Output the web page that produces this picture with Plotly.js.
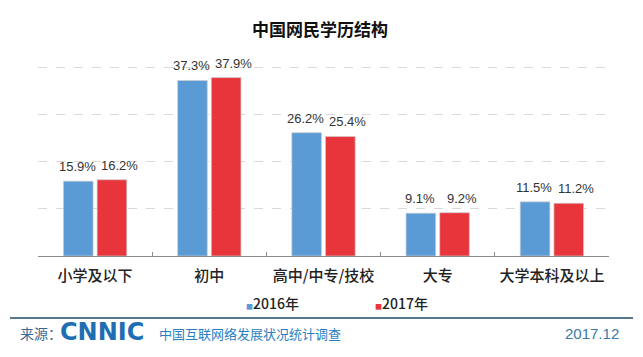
<!DOCTYPE html>
<html>
<head>
<meta charset="utf-8">
<script src="https://cdn.plot.ly/plotly-3.0.1.min.js"></script>
<style>html,body{margin:0;padding:0;background:#fff;}#chart{width:643px;height:357px;}</style>
</head>
<body>
<div id="chart"></div>
<script>
const categories = ['小学及以下', '初中', '高中/中专/技校', '大专', '大学本科及以上'];
const seriesNames = ['2016年', '2017年'];
const values2016 = [15.9, 37.3, 26.2, 9.1, 11.5];
const values2017 = [16.2, 37.9, 25.4, 9.2, 11.2];
const seriesColors = ['#5B9BD5', '#E8353B'];
const titleText = '中国网民学历结构';
const sourceLabel = '来源：';
const logoText = 'CNNIC';
const surveyText = '中国互联网络发展状况统计调查';
const dateText = '2017.12';

// pixel -> paper helpers (plot area: x 38..609, y 63..256)
const L = 38, R = 609, T = 63, B = 256;
const px = x => (x - L) / (R - L);
const py = y => (B - y) / (B - T);

const cjk = '"Noto Sans CJK SC", "Microsoft YaHei", sans-serif';
const latin = '"Liberation Sans", Arial, sans-serif';

function barTrace(name, vals, color) {
  return {
    type: 'bar', name: name, x: categories, y: vals,
    marker: {color: color, line: {color: 'rgba(205,205,205,0.7)', width: 1}},
    cliponaxis: false, hoverinfo: 'skip', showlegend: false
  };
}

const data = [
  barTrace(seriesNames[0], values2016, seriesColors[0]),
  barTrace(seriesNames[1], values2017, seriesColors[1])
];

const annotations = [];
// value labels (anchored at each data point, shifted sideways onto its grouped bar)
const labelShift = [-18, 24];
[values2016, values2017].forEach((vals, s) => {
  vals.forEach((v, i) => {
    annotations.push({xref: 'x', yref: 'y', x: categories[i], y: v, xshift: labelShift[s], yshift: 5,
      xanchor: 'center', yanchor: 'bottom', showarrow: false, text: v.toFixed(1) + '%',
      font: {family: latin, size: 13, color: '#333'}});
  });
});
annotations.push(
  {xref: 'paper', yref: 'paper', x: px(272), y: py(303), xanchor: 'center', yanchor: 'middle', showarrow: false,
   text: '<span style="color:' + seriesColors[0] + ';font-size:7px">■</span>' + seriesNames[0],
   font: {family: cjk, size: 14, color: '#222', weight: 500}},
  {xref: 'paper', yref: 'paper', x: px(401), y: py(303), xanchor: 'center', yanchor: 'middle', showarrow: false,
   text: '<span style="color:' + seriesColors[1] + ';font-size:7px">■</span>' + seriesNames[1],
   font: {family: cjk, size: 14, color: '#222', weight: 500}},
  {xref: 'paper', yref: 'paper', x: px(18), y: py(333), xanchor: 'left', yanchor: 'middle', showarrow: false,
   text: sourceLabel, font: {family: cjk, size: 14, color: '#3a6a94'}},
  {xref: 'paper', yref: 'paper', x: px(58), y: py(332), xanchor: 'left', yanchor: 'middle', showarrow: false,
   text: '<b>' + logoText + '</b>', font: {family: '"DejaVu Sans", sans-serif', size: 24, color: '#1f6db3'}},
  {xref: 'paper', yref: 'paper', x: px(157), y: py(333), xanchor: 'left', yanchor: 'middle', showarrow: false,
   text: surveyText, font: {family: cjk, size: 13, color: '#2a7fc2'}},
  {xref: 'paper', yref: 'paper', x: px(621), y: py(333), xanchor: 'right', yanchor: 'middle', showarrow: false,
   text: dateText, font: {family: latin, size: 15, color: '#3b7aa6'}}
);

const layout = {
  width: 643, height: 357,
  margin: {l: L, r: 643 - R, t: T, b: 357 - B, pad: 0},
  paper_bgcolor: '#fff', plot_bgcolor: 'rgba(0,0,0,0)',
  title: {text: '<b>' + titleText + '</b>', x: 320 / 643, xref: 'container', xanchor: 'center',
          y: 1 - 30 / 357, yref: 'container', yanchor: 'middle',
          font: {family: cjk, size: 17, color: '#111'}},
  barmode: 'group', bargap: 0.41, bargroupgap: 0.12,
  xaxis: {type: 'category', showline: true, linecolor: '#8c8c8c', linewidth: 1,
          ticks: 'inside', tickson: 'boundaries', ticklen: 4, tickcolor: '#8c8c8c', ticklabelstandoff: 6,
          tickfont: {family: cjk, size: 15, color: '#222', weight: 500}, showgrid: false, fixedrange: true},
  yaxis: {range: [0, 41], tickvals: [10, 20, 30, 40], showticklabels: false, showgrid: true, gridcolor: '#d9d9d9',
          griddash: 'dash', zeroline: false, fixedrange: true},
  shapes: [
    {type: 'line', xref: 'paper', yref: 'paper', x0: px(10), x1: px(633), y0: py(318), y1: py(318),
     line: {color: '#56788f', width: 2}}
  ],
  annotations: annotations,
  showlegend: false
};

Plotly.newPlot('chart', data, layout, {displayModeBar: false, staticPlot: true});
</script>
</body>
</html>
